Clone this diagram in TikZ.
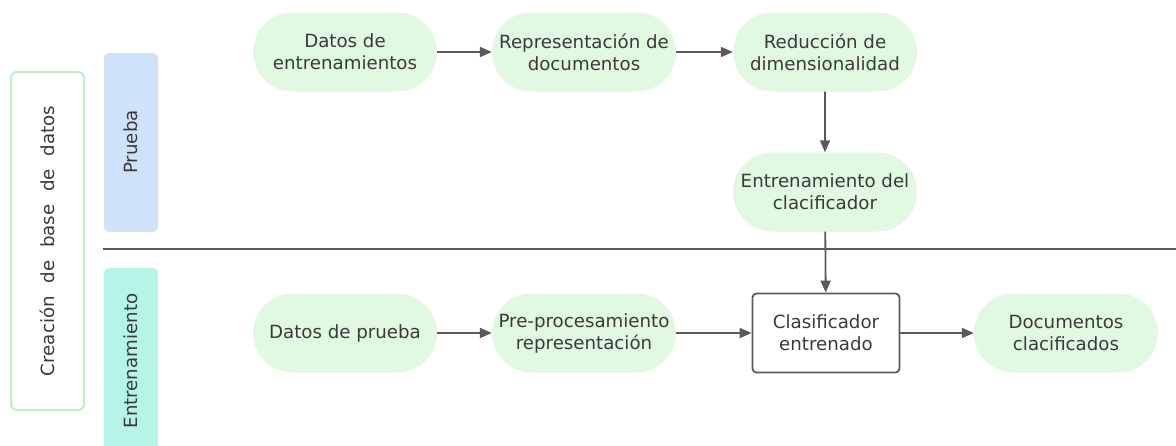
\documentclass[tikz,border=0pt]{standalone}
\usepackage{fontspec}
\setmainfont{DejaVu Sans}
\newfontfamily\widelbl[WordSpace=2.2]{DejaVu Sans}
\usetikzlibrary{arrows.meta,shapes.misc}
\definecolor{txt}{HTML}{3A3A3A}
\definecolor{ln}{HTML}{5A5A5A}
\definecolor{stfill}{HTML}{E1F8E1}
\definecolor{bluef}{HTML}{CFE2FC}
\definecolor{tealf}{HTML}{B6F4E8}
\definecolor{greenb}{HTML}{BDEFC0}
\tikzset{
  stad/.style={rounded rectangle, fill=stfill, minimum width=184pt, minimum height=79pt, align=center, text=txt, font=\fontsize{18.2}{22}\selectfont, inner sep=0pt},
  sqbox/.style={rectangle, rounded corners=4pt, draw=ln, line width=1.8pt, fill=white, minimum width=147pt, minimum height=79pt, align=center, text=txt, font=\fontsize{18.2}{22}\selectfont},
  conn/.style={draw=ln, line width=1.8pt, -{Triangle[length=12pt,width=10pt]}},
  lbl/.style={text=txt, font=\fontsize{18.2}{22}\selectfont, rotate=90}
}
\begin{document}
\begin{tikzpicture}[x=1pt,y=-1pt]
\useasboundingbox (0,0) rectangle (1176,445);
% lanes
\draw[greenb, line width=2pt, fill=white, rounded corners=6pt] (11,72) rectangle (84,410);
\fill[bluef, rounded corners=5pt] (104,53) rectangle (158,232);
\fill[tealf, rounded corners=5pt] (104,268) rectangle (158,470);
\node[lbl, font=\widelbl\fontsize{18.2}{22}\selectfont] (lab1) at (47,241) {Creación de base de datos};
\node[lbl] (lab2) at (131,142) {Prueba};
\node[lbl] (lab3) at (131,361) {Entrenamiento};
\coordinate (hl1) at (103,249);
\coordinate (hl2) at (1176,249);
\draw[ln, line width=1.8pt] (hl1) -- (hl2);
% nodes
\node[stad] (a) at (345,52) {Datos de\\entrenamientos};
\node[stad] (b) at (584,52) {Representación de\\documentos};
\node[stad] (c) at (825,52) {Reducción de\\dimensionalidad};
\node[stad] (d) at (825,192) {Entrenamiento del\\clacificador};
\node[stad] (e) at (345,333) {Datos de prueba};
\node[stad] (f) at (584,333) {Pre-procesamiento\\representación};
\node[sqbox] (g) at (826,333) {Clasificador\\entrenado};
\node[stad] (h) at (1066,333) {Documentos\\clacificados};
% connectors
\draw[conn] (a) -- (b);
\draw[conn] (b) -- (c);
\draw[conn] (c) -- (d);
\draw[conn] (d) -- (g);
\draw[conn] (e) -- (f);
\draw[conn] (f) -- (g);
\draw[conn] (g) -- (h);
\end{tikzpicture}
\end{document}
